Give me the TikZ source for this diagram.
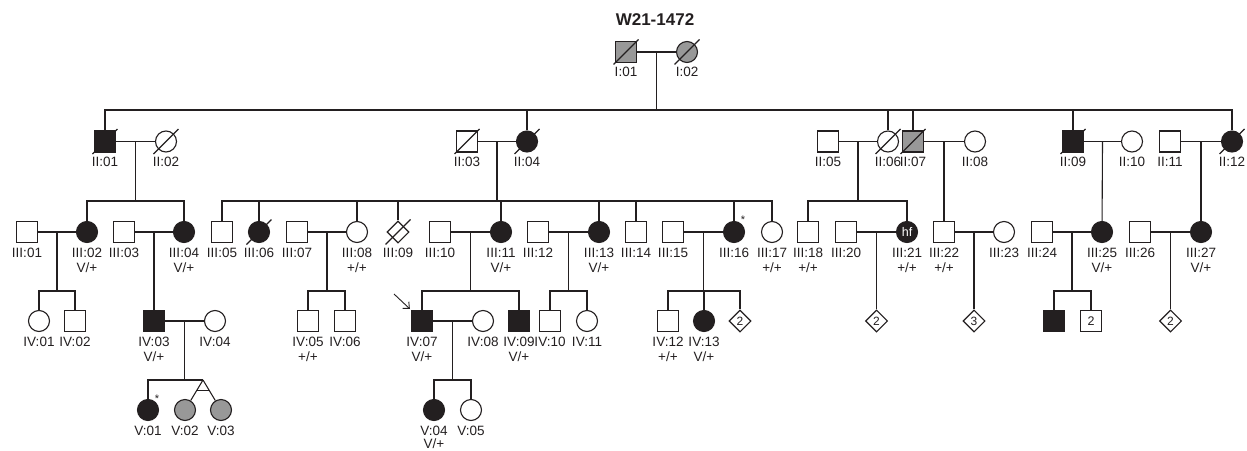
\documentclass[tikz,border=0pt]{standalone}
\usepackage{fontspec}
\setmainfont{Liberation Sans}
\usetikzlibrary{shapes.geometric,calc,arrows.meta}
\definecolor{affgray}{RGB}{152,152,152}
\definecolor{ink}{RGB}{35,31,32}
\newcommand\plab[2]{\node[lab] (#1l) at ($(#1)+(0,20.5)$) {#2};}
\newcommand\pgen[2]{\node[lab] (#1g) at ($(#1)+(0,36)$) {#2};}
\begin{document}
\begin{tikzpicture}[x=1pt,y=-1pt,
  sym/.style={draw=ink,line width=1.1pt,inner sep=0pt,fill=white,text=ink},
  male/.style={sym,rectangle,minimum size=21pt,font=\fontsize{12.5}{12.5}\selectfont},
  fem/.style={sym,circle,minimum size=21pt,font=\fontsize{12.5}{12.5}\selectfont},
  unk/.style={sym,diamond,minimum width=22pt,minimum height=22pt,font=\fontsize{12}{12}\selectfont},
  aff/.style={fill=ink},
  gry/.style={fill=affgray},
  lab/.style={font=\fontsize{13.5}{13.5}\selectfont,text=ink,inner sep=0pt,text height=9.6pt,text depth=0pt},
  ast/.style={font=\fontsize{11}{11}\selectfont,text=ink,inner sep=0pt},
  ln/.style={draw=ink,line width=1.1pt},
]
\useasboundingbox (0,0) rectangle (1247,450);
\coordinate (r1) at (0,110);
\coordinate (r2) at (0,201);
\coordinate (r3) at (0,291);
\coordinate (r4) at (0,380);

\node[font=\bfseries\fontsize{17}{17}\selectfont,text=ink] (title) at (655,20) {W21-1472};

% Generation I
\node[male,gry] (I01) at (626,52) {};
\node[fem,gry] (I02) at (687,52) {};
% Generation II
\node[male,aff] (II01) at (105,141.5) {};
\node[fem] (II02) at (166,141.5) {};
\node[male] (II03) at (467,141.5) {};
\node[fem,aff] (II04) at (527,141.5) {};
\node[male] (II05) at (828,141.5) {};
\node[fem] (II06) at (888,141.5) {};
\node[male,gry] (II07) at (913,141.5) {};
\node[fem] (II08) at (975,141.5) {};
\node[male,aff] (II09) at (1073,141.5) {};
\node[fem] (II10) at (1132,141.5) {};
\node[male] (II11) at (1170,141.5) {};
\node[fem,aff] (II12) at (1232,141.5) {};
% Generation III
\node[male] (III01) at (27,232) {};
\node[fem,aff] (III02) at (87,232) {};
\node[male] (III03) at (124,232) {};
\node[fem,aff] (III04) at (184,232) {};
\node[male] (III05) at (222,232) {};
\node[fem,aff] (III06) at (259,232) {};
\node[male] (III07) at (297,232) {};
\node[fem] (III08) at (357,232) {};
\node[unk] (III09) at (398,232) {};
\node[male] (III10) at (440,232) {};
\node[fem,aff] (III11) at (501,232) {};
\node[male] (III12) at (538,232) {};
\node[fem,aff] (III13) at (599,232) {};
\node[male] (III14) at (636,232) {};
\node[male] (III15) at (673,232) {};
\node[fem,aff] (III16) at (734,232) {};
\node[fem] (III17) at (772,232) {};
\node[male] (III18) at (808,232) {};
\node[male] (III20) at (846,232) {};
\node[fem,aff,text=white] (III21) at (907,232) {hf};
\node[male] (III22) at (944,232) {};
\node[fem] (III23) at (1004,232) {};
\node[male] (III24) at (1042,232) {};
\node[fem,aff] (III25) at (1102,232) {};
\node[male] (III26) at (1140,232) {};
\node[fem,aff] (III27) at (1201,232) {};
% Generation IV
\node[fem] (IV01) at (39,321) {};
\node[male] (IV02) at (75,321) {};
\node[male,aff] (IV03) at (154,321) {};
\node[fem] (IV04) at (215,321) {};
\node[male] (IV05) at (308,321) {};
\node[male] (IV06) at (345,321) {};
\node[male,aff] (IV07) at (422,321) {};
\node[fem] (IV08) at (483,321) {};
\node[male,aff] (IV09) at (519,321) {};
\node[male] (IV10) at (550,321) {};
\node[fem] (IV11) at (587,321) {};
\node[male] (IV12) at (668,321) {};
\node[fem,aff] (IV13) at (704,321) {};
\node[unk] (IVd1) at (740,321) {2};
\node[unk] (IVd2) at (876.5,321) {2};
\node[unk] (IVd3) at (974,321) {3};
\node[male,aff] (IVa) at (1054,321) {};
\node[male] (IVb) at (1091,321) {2};
\node[unk] (IVd4) at (1170.5,321) {2};
% Generation V
\node[fem,aff] (V01) at (148,410) {};
\node[fem,gry] (V02) at (185,410) {};
\node[fem,gry] (V03) at (221,410) {};
\node[fem,aff] (V04) at (434,410) {};
\node[fem] (V05) at (471,410) {};

% deceased slashes
\foreach \n in {I01,I02,II01,II02,II03,II04,II06,II07,II09,II12,III06,III09}
  \draw[ln] ($(\n)+(-12.5,12.5)$) -- ($(\n)+(12.5,-12.5)$);

% Gen I family
\draw[ln] (I01) -- (I02);
\coordinate (mI) at ($(I01)!0.5!(I02)$);
\draw[ln] (mI) -- (mI |- r1);
\draw[ln] (II01.north) -- (II01.north |- r1) -| (II12.north);
\foreach \c in {II04,II06,II07,II09} \draw[ln] (\c.north) -- (\c.north |- r1);

% Gen II marriages
\draw[ln] (II01) -- (II02);
\draw[ln] (II03) -- (II04);
\draw[ln] (II05) -- (II06);
\draw[ln] (II07) -- (II08);
\draw[ln] (II09) -- (II10);
\draw[ln] (II11) -- (II12);
\coordinate (m1) at ($(II01)!0.5!(II02)$);
\coordinate (m2) at ($(II03)!0.5!(II04)$);
\coordinate (m3) at ($(II05)!0.5!(II06)$);
\coordinate (m4) at ($(II07)!0.5!(II08)$);
\coordinate (m5) at ($(II09)!0.5!(II10)$);
\coordinate (m6) at ($(II11)!0.5!(II12)$);
\draw[ln] (m1) -- (m1 |- r2);
\draw[ln] (III02.north) -- (III02.north |- r2) -| (III04.north);
\draw[ln] (m2) -- (m2 |- r2);
\draw[ln] (III05.north) -- (III05.north |- r2) -| (III17.north);
\foreach \c in {III06,III08,III09,III11,III13,III14,III16} \draw[ln] (\c.north) -- (\c.north |- r2);
\draw[ln] (m3) -- (m3 |- r2);
\draw[ln] (III18.north) -- (III18.north |- r2) -| (III21.north);
\draw[ln] (m4) -- (III22);
\draw[ln] (m5) -- (III25);
\draw[ln] (m6) -- (III27);

% Gen III marriages
\draw[ln] (III01) -- (III02);
\draw[ln] (III03) -- (III04);
\draw[ln] (III07) -- (III08);
\draw[ln] (III10) -- (III11);
\draw[ln] (III12) -- (III13);
\draw[ln] (III15) -- (III16);
\draw[ln] (III20) -- (III21);
\draw[ln] (III22) -- (III23);
\draw[ln] (III24) -- (III25);
\draw[ln] (III26) -- (III27);
\coordinate (n1) at ($(III01)!0.5!(III02)$);
\coordinate (n2) at ($(III03)!0.5!(III04)$);
\coordinate (n3) at ($(III07)!0.5!(III08)$);
\coordinate (n4) at ($(III10)!0.5!(III11)$);
\coordinate (n5) at ($(III12)!0.5!(III13)$);
\coordinate (n6) at ($(III15)!0.5!(III16)$);
\coordinate (n7) at ($(III20)!0.5!(III21)$);
\coordinate (n8) at ($(III22)!0.5!(III23)$);
\coordinate (n9) at ($(III24)!0.5!(III25)$);
\coordinate (n10) at ($(III26)!0.5!(III27)$);
\draw[ln] (n1) -- (n1 |- r3);
\draw[ln] (IV01.north) -- (IV01.north |- r3) -| (IV02.north);
\draw[ln] (n2) -- (IV03);
\draw[ln] (n3) -- (n3 |- r3);
\draw[ln] (IV05.north) -- (IV05.north |- r3) -| (IV06.north);
\draw[ln] (n4) -- (n4 |- r3);
\draw[ln] (IV07.north) -- (IV07.north |- r3) -| (IV09.north);
\draw[ln] (n5) -- (n5 |- r3);
\draw[ln] (IV10.north) -- (IV10.north |- r3) -| (IV11.north);
\draw[ln] (n6) -- (n6 |- r3);
\draw[ln] (IV12.north) -- (IV12.north |- r3) -| (IVd1.north);
\draw[ln] (IV13.north) -- (IV13.north |- r3);
\draw[ln] (n7) -- (IVd2);
\draw[ln] (n8) -- (IVd3);
\draw[ln] (n9) -- (n9 |- r3);
\draw[ln] (IVa.north) -- (IVa.north |- r3) -| (IVb.north);
\draw[ln] (n10) -- (IVd4);

% Gen IV marriages
\draw[ln] (IV03) -- (IV04);
\draw[ln] (IV07) -- (IV08);
\coordinate (o1) at ($(IV03)!0.5!(IV04)$);
\coordinate (o2) at ($(IV07)!0.5!(IV08)$);
\coordinate (tw) at (203,380);
\draw[ln] (o1) -- (o1 |- r4);
\draw[ln] (V01.north) |- (tw);
\draw[ln] (tw) -- (V02);
\draw[ln] (tw) -- (V03);
\draw[ln] ($(tw)!0.34!(V02.center)$) -- ($(tw)!0.34!(V03.center)$);
\draw[ln] (o2) -- (o2 |- r4);
\draw[ln] (V04.north) -- (V04.north |- r4) -| (V05.north);

% proband arrow
\coordinate (arr) at (394,294);
\draw[ln,line width=0.9pt,-{Straight Barb[length=5pt,width=9pt]},shorten >=1.5pt] (arr) -- (IV07.north west);

% asterisks
\node[ast] (astV01) at (157,398.5) {*};
\node[ast] (astIII16) at (743,219.5) {*};

% labels
\node[lab] (I01l) at ($(I01)+(0,20)$) {I:01};
\node[lab] (I02l) at ($(I02)+(0,20)$) {I:02};
\plab{II01}{II:01}\plab{II02}{II:02}\plab{II03}{II:03}\plab{II04}{II:04}
\plab{II05}{II:05}\plab{II06}{II:06}\plab{II07}{II:07}\plab{II08}{II:08}
\plab{II09}{II:09}\plab{II10}{II:10}\plab{II11}{II:11}\plab{II12}{II:12}
\plab{III01}{III:01}\plab{III02}{III:02}\plab{III03}{III:03}\plab{III04}{III:04}
\plab{III05}{III:05}\plab{III06}{III:06}\plab{III07}{III:07}\plab{III08}{III:08}
\plab{III09}{III:09}\plab{III10}{III:10}\plab{III11}{III:11}\plab{III12}{III:12}
\plab{III13}{III:13}\plab{III14}{III:14}\plab{III15}{III:15}\plab{III16}{III:16}
\plab{III17}{III:17}\plab{III18}{III:18}\plab{III20}{III:20}\plab{III21}{III:21}
\plab{III22}{III:22}\plab{III23}{III:23}\plab{III24}{III:24}\plab{III25}{III:25}
\plab{III26}{III:26}\plab{III27}{III:27}
\pgen{III02}{V/+}\pgen{III04}{V/+}\pgen{III08}{+/+}\pgen{III11}{V/+}
\pgen{III13}{V/+}\pgen{III17}{+/+}\pgen{III18}{+/+}\pgen{III21}{+/+}
\pgen{III22}{+/+}\pgen{III25}{V/+}\pgen{III27}{V/+}
\plab{IV01}{IV:01}\plab{IV02}{IV:02}\plab{IV03}{IV:03}\plab{IV04}{IV:04}
\plab{IV05}{IV:05}\plab{IV06}{IV:06}\plab{IV07}{IV:07}\plab{IV08}{IV:08}
\plab{IV09}{IV:09}\plab{IV10}{IV:10}\plab{IV11}{IV:11}\plab{IV12}{IV:12}
\plab{IV13}{IV:13}
\pgen{IV03}{V/+}\pgen{IV05}{+/+}\pgen{IV07}{V/+}\pgen{IV09}{V/+}
\pgen{IV12}{+/+}\pgen{IV13}{V/+}
\plab{V01}{V:01}\plab{V02}{V:02}\plab{V03}{V:03}\plab{V04}{V:04}\plab{V05}{V:05}
\node[lab] (V04g) at ($(V04)+(0,34)$) {V/+};
\end{tikzpicture}
\end{document}
